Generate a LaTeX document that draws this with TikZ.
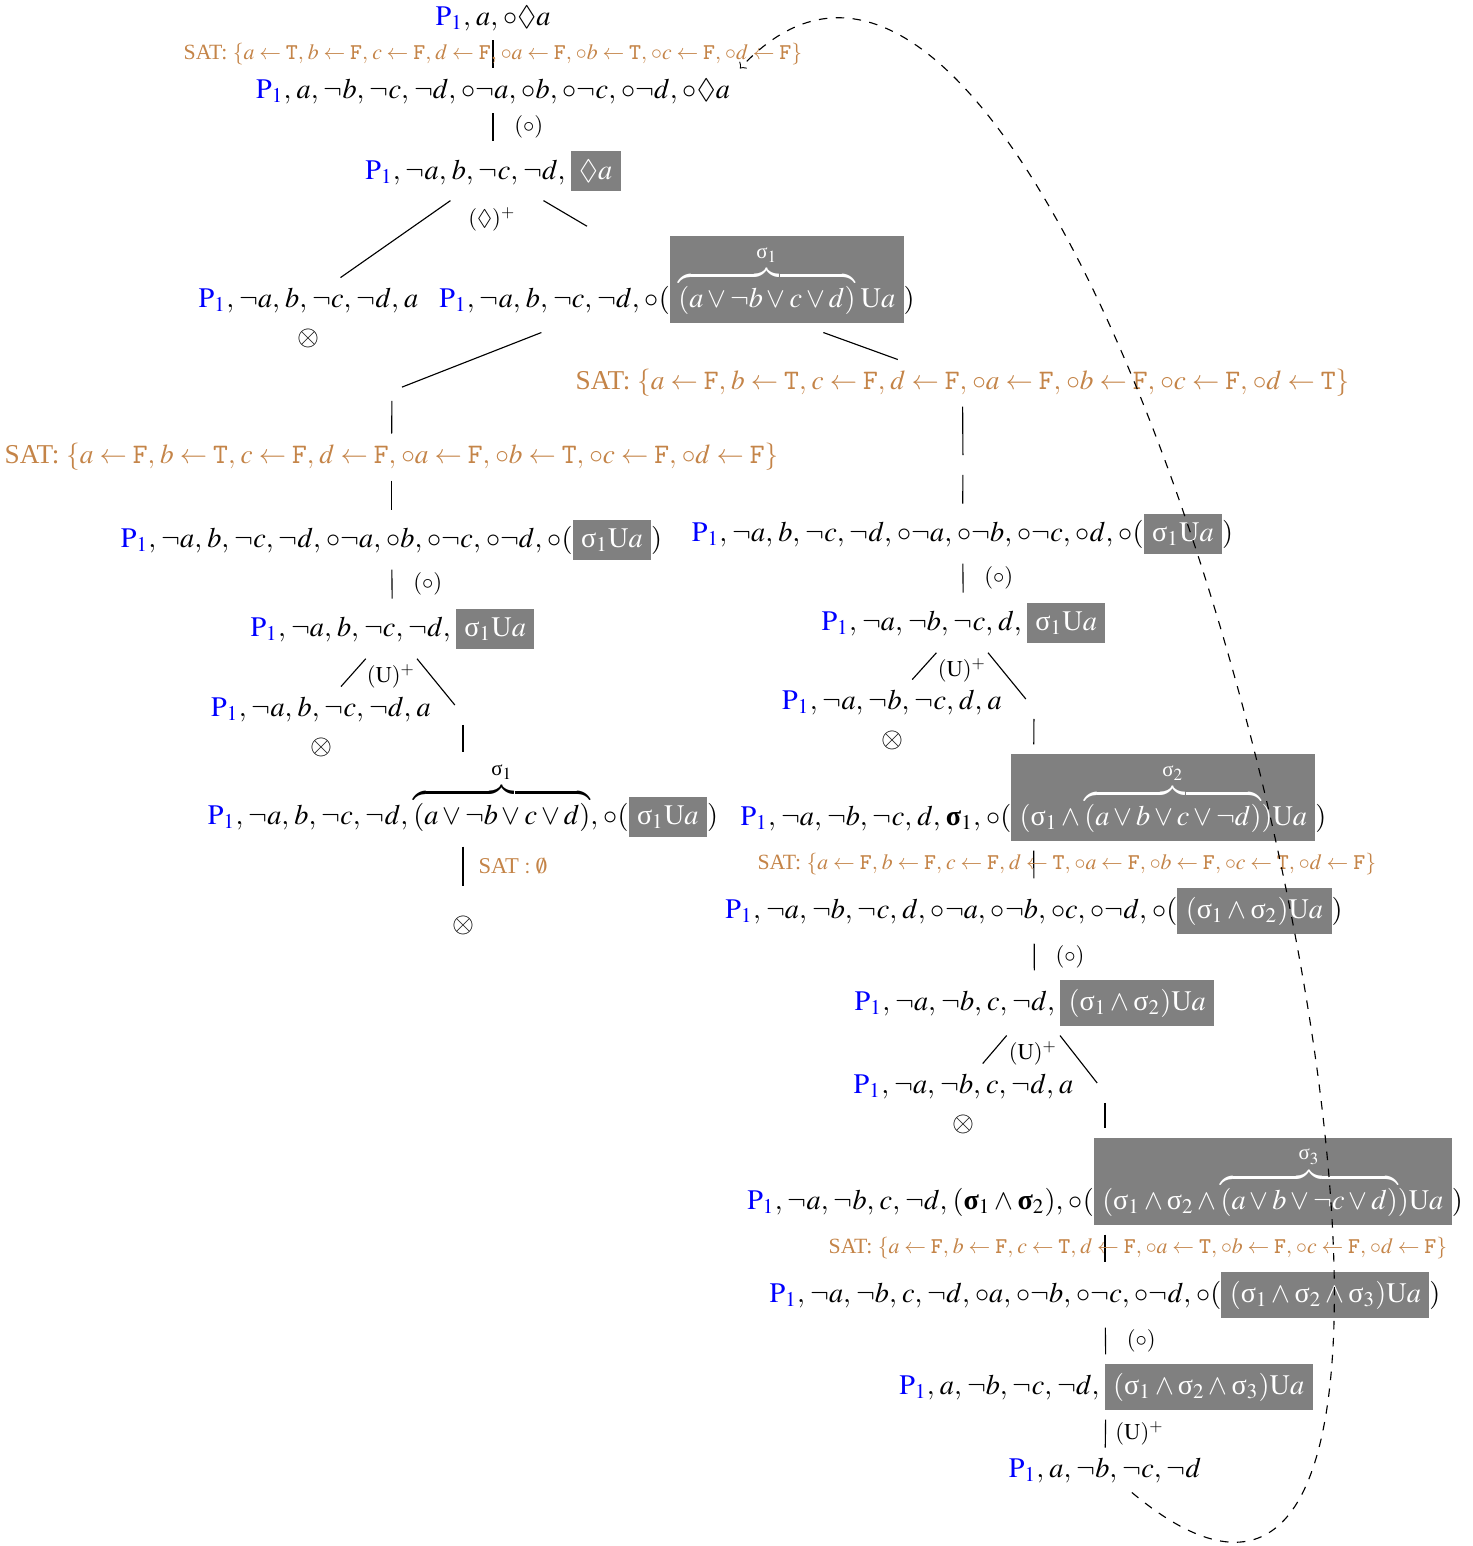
\documentclass[tikz,border=0pt]{standalone}
\usepackage{amsmath}
\usepackage{amssymb}
\usepackage{mathptmx}
\usepackage{fontspec}
\setmainfont{Liberation Serif}
\usepackage{tikz}

\definecolor{satc}{RGB}{196,132,72}
\newcommand{\Pa}{\textcolor{blue}{\mathrm{P}_1}}
\newcommand{\nx}{\circ}
\newcommand{\gbox}[1]{\colorbox{gray}{$\color{white}#1$}}
\newcommand{\sgm}[1]{\text{σ}_{#1}}
\newcommand{\bsgm}[1]{\text{\bfseries σ}_{#1}}
\newcommand{\tv}{\mathtt{T}}
\newcommand{\fv}{\mathtt{F}}
\newcommand{\Ua}{\mathrm{U}a}
\newcommand{\satlist}[1]{SAT: $\{#1\}$}
\thinmuskip=3.3mu

\begin{document}
\begin{tikzpicture}[x=0.354pt, y=-0.354pt, fml/.style = {anchor=base}, sat/.style = {text=satc, font=\fontsize{9.65}{11}\selectfont}, satsm/.style = {text=satc, font=\fontsize{7.7}{9}\selectfont}, lbl/.style = {font=\footnotesize}]
	\useasboundingbox (0,0) rectangle (1473,1546);
	% root and first step
	\node[fml] (1) at (493,25) {$\Pa, a, \nx\Diamond a$};
	\node[fml] (2) at (493,98) {$\Pa, a, \neg b, \neg c, \neg d, \nx\neg a, \nx b, \nx\neg c, \nx\neg d, \nx\Diamond a$};
	\node[fml] (3) at (493,179) {$\Pa, \neg a, b, \neg c, \neg d, \gbox{\Diamond a}$};
	\node[fml] (4) at (308.5,307) {$\Pa, \neg a, b, \neg c, \neg d, a$};
	\node (4x) at (308,338) {$\otimes$};
	\node[fml] (5) at (677,307) {$\Pa, \neg a, b, \neg c, \neg d, \nx(\gbox{\overbrace{(a\vee\neg b\vee c\vee d)}^{\sgm1}\Ua})$};
	\node[lbl] (r3) at (492,219) {$(\Diamond)^{+}$};
	% left branch
	\node (e1) at (392,391) {};
	\node[sat] (s1) at (391.5,457) {\satlist{a\leftarrow\fv, b\leftarrow\tv, c\leftarrow\fv, d\leftarrow\fv, \nx a\leftarrow\fv, \nx b\leftarrow\tv, \nx c\leftarrow\fv, \nx d\leftarrow\fv}};
	\node[fml] (6) at (391.5,547) {$\Pa, \neg a, b, \neg c, \neg d, \nx\neg a, \nx b, \nx\neg c, \nx\neg d, \nx(\gbox{\sgm1\Ua})$};
	\node[fml] (18) at (392.5,636) {$\Pa, \neg a, b, \neg c, \neg d, \gbox{\sgm1\Ua}$};
	\node[lbl] (r18) at (391,676) {$(\mathrm{U})^{+}$};
	\node[fml] (19) at (321,716) {$\Pa, \neg a, b, \neg c, \neg d, a$};
	\node (19x) at (321,747) {$\otimes$};
	\node (e2) at (463,715) {};
	\node[fml] (20) at (463,824) {$\Pa, \neg a, b, \neg c, \neg d, \overbrace{(a\vee\neg b\vee c\vee d)}^{\sgm1}, \nx(\gbox{\sgm1\Ua})$};
	\node[minimum height=27pt] (20x) at (463,925) {$\otimes$};
	% right branch
	\node[sat] (s2) at (962.5,383) {\satlist{a\leftarrow\fv, b\leftarrow\tv, c\leftarrow\fv, d\leftarrow\fv, \nx a\leftarrow\fv, \nx b\leftarrow\fv, \nx c\leftarrow\fv, \nx d\leftarrow\tv}};
	\node (e3) at (963,465) {};
	\node[fml] (7) at (962.5,541) {$\Pa, \neg a, b, \neg c, \neg d, \nx\neg a, \nx\neg b, \nx\neg c, \nx d, \nx(\gbox{\sgm1\Ua})$};
	\node[fml] (8) at (963.5,630) {$\Pa, \neg a, \neg b, \neg c, d, \gbox{\sgm1\Ua}$};
	\node[lbl] (r8) at (962,670) {$(\mathrm{U})^{+}$};
	\node[fml] (9) at (892,709) {$\Pa, \neg a, \neg b, \neg c, d, a$};
	\node (9x) at (892,740) {$\otimes$};
	\node (e4) at (1034,709) {};
	\node[fml] (10) at (1033.5,825) {$\Pa, \neg a, \neg b, \neg c, d, \bsgm1, \nx(\gbox{(\sgm1\wedge\overbrace{(a\vee b\vee c\vee\neg d)}^{\sgm2})\Ua})$};
	\node[fml] (11) at (1034,918) {$\Pa, \neg a, \neg b, \neg c, d, \nx\neg a, \nx\neg b, \nx c, \nx\neg d, \nx(\gbox{(\sgm1\wedge\sgm2)\Ua})$};
	\node[fml] (12) at (1034.5,1010) {$\Pa, \neg a, \neg b, c, \neg d, \gbox{(\sgm1\wedge\sgm2)\Ua}$};
	\node[lbl] (r12) at (1033,1053) {$(\mathrm{U})^{+}$};
	\node[fml] (13) at (963.5,1093) {$\Pa, \neg a, \neg b, c, \neg d, a$};
	\node (13x) at (963,1124) {$\otimes$};
	\node (e5) at (1105,1093) {};
	\node[fml] (14) at (1105,1209) {$\Pa, \neg a, \neg b, c, \neg d, (\bsgm1\wedge\bsgm2), \nx(\gbox{(\sgm1\wedge\sgm2\wedge\overbrace{(a\vee b\vee\neg c\vee d)}^{\sgm3})\Ua})$};
	\node[fml] (15) at (1105,1302) {$\Pa, \neg a, \neg b, c, \neg d, \nx a, \nx\neg b, \nx\neg c, \nx\neg d, \nx(\gbox{(\sgm1\wedge\sgm2\wedge\sgm3)\Ua})$};
	\node[fml] (16) at (1106,1394) {$\Pa, a, \neg b, \neg c, \neg d, \gbox{(\sgm1\wedge\sgm2\wedge\sgm3)\Ua}$};
	\node[fml] (17) at (1105,1477) {$\Pa, a, \neg b, \neg c, \neg d$};

	\draw[-] (1) -- (2) node[midway, satsm] {\satlist{a\leftarrow\tv, b\leftarrow\fv, c\leftarrow\fv, d\leftarrow\fv, \nx a\leftarrow\fv, \nx b\leftarrow\tv, \nx c\leftarrow\fv, \nx d\leftarrow\fv}};
	\draw[-] (2) -- (3) node[midway, right=4pt, lbl] {$(\nx)$};
	\draw[-] (3) -- (4);
	\draw[-] (3) -- (5);
	\draw[-] (5) -- (e1);
	\draw[-] (e1) -- (s1);
	\draw[-] (s1) -- (6);
	\draw[-] (6) -- (18) node[midway, right=4pt, lbl] {$(\nx)$};
	\draw[-] (18) -- (19);
	\draw[-] (18) -- (e2);
	\draw[-] (e2) -- (20);
	\draw[-] (20) -- (20x) node[midway, right=2pt, sat, font=\footnotesize] {SAT $:\emptyset$};
	\draw[-] (5) -- (s2);
	\draw[-] (s2) -- (e3);
	\draw[-] (e3) -- (7);
	\draw[-] (7) -- (8) node[midway, right=4pt, lbl] {$(\nx)$};
	\draw[-] (8) -- (9);
	\draw[-] (8) -- (e4);
	\draw[-] (e4) -- (10);
	\draw[-] (10) -- (11) node[midway, xshift=11.7pt, satsm] {\satlist{a\leftarrow\fv, b\leftarrow\fv, c\leftarrow\fv, d\leftarrow\tv, \nx a\leftarrow\fv, \nx b\leftarrow\fv, \nx c\leftarrow\tv, \nx d\leftarrow\fv}};
	\draw[-] (11) -- (12) node[midway, right=4pt, lbl] {$(\nx)$};
	\draw[-] (12) -- (13);
	\draw[-] (12) -- (e5);
	\draw[-] (e5) -- (14);
	\draw[-] (14) -- (15) node[midway, xshift=11.7pt, satsm] {\satlist{a\leftarrow\fv, b\leftarrow\fv, c\leftarrow\tv, d\leftarrow\fv, \nx a\leftarrow\tv, \nx b\leftarrow\fv, \nx c\leftarrow\fv, \nx d\leftarrow\fv}};
	\draw[-] (15) -- (16) node[midway, right=4pt, lbl] {$(\nx)$};
	\draw[-] (16) -- (17) node[midway, right, lbl] {$(\mathrm{U})^{+}$};
	%\draw[-] (17) -- (1);
	\draw[dashed, ->] (17) .. controls (1620,1900) and (1120,-340) .. (2.north east);
\end{tikzpicture}
\end{document}
